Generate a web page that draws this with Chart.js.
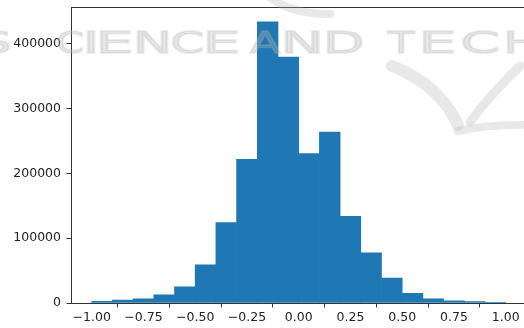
<!DOCTYPE html>
<html><head><meta charset="utf-8">
<script src="https://cdn.jsdelivr.net/npm/chart.js@4/dist/chart.umd.min.js"></script>
<style>
html,body{margin:0;padding:0;overflow:hidden;background:#fff}
#wrap{width:524px;height:328px;overflow:hidden;position:relative}
#c{position:absolute;left:0;top:0}
</style></head><body>
<div id="wrap"><canvas id="c" width="540" height="328"></canvas></div>
<script>
// Histogram bins (left edges) and counts
const binEdges = [-1.0,-0.9,-0.8,-0.7,-0.6,-0.5,-0.4,-0.3,-0.2,-0.1,0.0,0.1,0.2,0.3,0.4,0.5,0.6,0.7,0.8,0.9,1.0];
const counts = [2500,4600,6600,12800,25000,59000,124000,222000,434000,379500,230500,264000,134000,77500,38500,15000,6600,3200,2200,300];
const xTickValues = [-1.0,-0.75,-0.5,-0.25,0.0,0.25,0.5,0.75,1.0];
const yTickValues = [0,100000,200000,300000,400000];
const watermarkWords = ['S','C','I','E','N','C','E','A','N','D','T','E','C','H'];

const barData = counts.map((v,i)=>({x:(binEdges[i]+binEdges[i+1])/2, y:v}));

const fmtX = v => { const s = Math.abs(v).toFixed(2); return v < -1e-9 ? '\u2212'+s : s; };

const frame = {
  id:'frame',
  afterDraw(chart){
    const {ctx, chartArea:a} = chart;
    ctx.save();
    ctx.strokeStyle = '#333';
    ctx.lineWidth = 1;
    ctx.beginPath();
    ctx.moveTo(a.left, a.top+0.5);
    ctx.lineTo(a.right, a.top+0.5);
    ctx.stroke();
    ctx.restore();
  }
};

// light SCITEPRESS-like watermark over the figure
const letterBoxes = [[-20,10],[58,82],[87,94],[100,130],[137,167],[173,202],[207,237],[250,281],[285,318],[327,362],[387,415],[423,453],[463,497],[507,537]];
const watermark = {
  id:'watermark',
  afterDraw(chart){
    const ctx = chart.ctx;
    ctx.save();
    ctx.fillStyle = 'rgba(180,180,180,0.3)';
    ctx.strokeStyle = 'rgba(180,180,180,0.3)';
    ctx.font = '40px "DejaVu Sans"';
    ctx.textBaseline = 'alphabetic';
    const yTop = 30, yBot = 53;
    watermarkWords.forEach((ch,i)=>{
      const [x0,x1] = letterBoxes[i];
      const m = ctx.measureText(ch);
      const w = m.actualBoundingBoxRight + m.actualBoundingBoxLeft;
      const h = m.actualBoundingBoxAscent;
      ctx.save();
      ctx.translate(x0, yBot);
      ctx.scale((x1-x0)/w, (yBot-yTop)/h);
      ctx.lineWidth = 2.2;
      ctx.fillText(ch, m.actualBoundingBoxLeft, 0);
      ctx.strokeText(ch, m.actualBoundingBoxLeft, 0);
      ctx.restore();
    });
    // swooshes
    ctx.lineCap = 'round';
    ctx.lineWidth = 12;
    ctx.beginPath();
    ctx.moveTo(392,66);
    ctx.quadraticCurveTo(440,85,458,125);
    ctx.stroke();
    ctx.lineWidth = 9;
    ctx.beginPath();
    ctx.moveTo(520,66);
    ctx.quadraticCurveTo(490,95,470,122);
    ctx.stroke();
    ctx.lineWidth = 8;
    ctx.beginPath();
    ctx.moveTo(458,131);
    ctx.quadraticCurveTo(490,124,530,125);
    ctx.stroke();
    ctx.beginPath();
    ctx.moveTo(268,-4);
    ctx.quadraticCurveTo(290,14,330,14);
    ctx.stroke();
    ctx.restore();
  }
};

new Chart(document.getElementById('c'), {
  type:'bar',
  data:{datasets:[{
    data: barData,
    backgroundColor:'#1f77b4',
    borderWidth:0,
    barPercentage:1.0,
    categoryPercentage:1.0,
    grouped:false
  }]},
  options:{
    responsive:false,
    animation:false,
    layout:{padding:{left:0,top:7,right:13.6,bottom:0}},
    plugins:{legend:{display:false},tooltip:{enabled:false}},
    scales:{
      x:{
        type:'linear', min:-1.1, max:1.1, offset:false,
        afterBuildTicks(s){ s.ticks = xTickValues.map(v=>({value:v})); },
        afterFit(s){ s.height = 25; s.paddingLeft = 0; s.paddingRight = 0; },
        grid:{display:true, drawOnChartArea:false, drawTicks:true, tickLength:4.5, color:'#333'},
        border:{display:true, color:'#333', width:1},
        ticks:{callback:v=>fmtX(v), color:'#222', padding:2.5, maxRotation:0, autoSkip:false,
               font:{family:'"DejaVu Sans"', size:12.5}}
      },
      y:{
        type:'linear', min:0, max:457000,
        afterBuildTicks(s){ s.ticks = yTickValues.map(v=>({value:v})); },
        afterFit(s){ s.width = 71; s.paddingTop = 0; s.paddingBottom = 0; },
        grid:{display:true, drawOnChartArea:false, drawTicks:true, tickLength:4.5, color:'#333'},
        border:{display:true, color:'#333', width:1},
        ticks:{callback:v=>String(v), color:'#222', padding:5.5,
               font:{family:'"DejaVu Sans"', size:12.5}}
      }
    }
  },
  plugins:[frame, watermark]
});
</script>
</body></html>
